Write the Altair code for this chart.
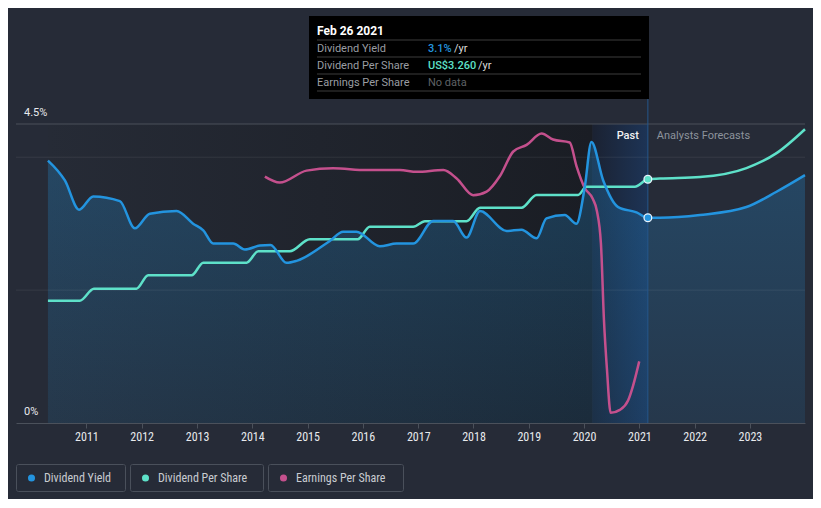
import altair as alt
import pandas as pd

# ---------------- data ----------------
YIELD_DATES = ["2010-04-22", "2010-08-12", "2010-11-14", "2011-02-15", "2011-08-10", "2011-11-17",
               "2012-02-24", "2012-08-19", "2012-12-06", "2013-02-11", "2013-04-18", "2013-08-28",
               "2013-11-13", "2014-02-20", "2014-05-01", "2014-08-15", "2014-10-20", "2015-05-28",
               "2015-08-24", "2015-11-20", "2016-04-22", "2016-08-11", "2016-11-29", "2017-04-10",
               "2017-08-20", "2017-11-16", "2018-02-13", "2018-08-08", "2018-11-14", "2019-02-22",
               "2019-04-28", "2019-08-27", "2019-11-12", "2020-01-06", "2020-02-19", "2020-05-07",
               "2020-08-14", "2020-12-13", "2021-02-26", "2021-05-16", "2022-02-05", "2022-12-09",
               "2023-06-26", "2023-12-31"]
YIELD_VALUES = [3.95, 3.65, 3.21, 3.41, 3.34, 2.93,
                3.15, 3.19, 3.00, 2.90, 2.70, 2.70,
                2.61, 2.67, 2.68, 2.41, 2.44, 2.74,
                2.88, 2.88, 2.66, 2.70, 2.70, 3.04,
                3.04, 2.79, 3.19, 2.89, 2.91, 2.78,
                3.08, 3.13, 3.00, 3.55, 4.23, 3.65,
                3.25, 3.17, 3.09, 3.09, 3.13, 3.25,
                3.48, 3.73]

DPS_DATES = ["2010-04-22", "2010-11-18", "2011-02-20", "2011-11-28", "2012-02-13", "2012-11-26",
             "2013-02-11", "2013-11-24", "2014-02-09", "2014-09-06", "2015-01-16", "2015-11-28",
             "2016-02-16", "2016-11-29", "2017-02-14", "2017-11-16", "2018-02-13", "2018-11-14",
             "2019-02-22", "2019-11-23", "2020-01-17", "2020-12-02", "2021-02-26", "2021-05-16",
             "2022-02-05", "2022-12-09", "2023-06-26", "2023-12-31"]
DPS_VALUES = [1.636, 1.636, 1.797, 1.797, 1.976, 1.976,
              2.145, 2.145, 2.297, 2.297, 2.458, 2.458,
              2.626, 2.626, 2.70, 2.70, 2.88, 2.88,
              3.05, 3.05, 3.16, 3.16, 3.26, 3.27,
              3.29, 3.41, 3.61, 3.93]

EPS_DATES = ["2014-03-25", "2014-07-01", "2014-12-25", "2015-06-19", "2016-01-26", "2016-09-02",
             "2016-12-22", "2017-06-16", "2017-09-12", "2017-12-30", "2018-03-29", "2018-06-25",
             "2018-09-21", "2018-12-18", "2019-03-27", "2019-06-11", "2019-09-29", "2019-11-12",
             "2020-01-06", "2020-02-28", "2020-03-26", "2020-04-22", "2020-05-12", "2020-06-01",
             "2020-06-25", "2020-08-25", "2020-10-19", "2020-11-21", "2020-12-31"]
EPS_VALUES = [4.12, 4.02, 4.22, 4.26, 4.23, 4.23,
              4.20, 4.23, 4.09, 3.81, 3.87, 4.13,
              4.54, 4.65, 4.84, 4.74, 4.69, 4.30,
              3.93, 3.75, 3.55, 3.00, 1.72, 0.89,
              0.17, 0.22, 0.38, 0.63, 1.03]

YEARS = list(range(2011, 2024))
Y_TICKS = [0, 4.5]
Y_TICK_LABELS = ["0%", "4.5%"]
GRID_VALUES = [2, 4]
TOP_VALUE = [4.5]

PAST_START = "2010-04-22"
BAND_START = "2020-02-26"
TODAY = "2021-02-26"
TODAY_YIELD = 3.09
TODAY_DPS = 3.26

SERIES = ["Dividend Yield", "Dividend Per Share", "Earnings Per Share"]

# ---------------- styling ----------------
BG = "#262b37"
C_YIELD = "#2394df"
C_DPS = "#5ee1c9"
C_EPS = "#c4508d"
FONT = "Roboto"
NARROW = "Roboto Condensed, Liberation Sans Narrow, Roboto"
W, H = 789, 299

YIELD_DOMAIN = [0, 4.5]
DPS_DOMAIN = [0, 4]
EPS_DOMAIN = [0, 5]

yield_df = pd.DataFrame({"date": YIELD_DATES, "v": YIELD_VALUES})
dps_df = pd.DataFrame({"date": DPS_DATES, "v": DPS_VALUES})
eps_df = pd.DataFrame({"date": EPS_DATES, "v": EPS_VALUES})
ONE = pd.DataFrame({"k": [0]})

x_axis = alt.Axis(
    values=[alt.DateTime(year=y, month=1, date=1, utc=True) for y in YEARS],
    labelExpr="utcFormat(datum.value, '%Y')",
    grid=False, domainColor="#4b515b", tickColor="#4b515b", tickSize=5,
    labelColor="#e8eaed", labelFont=NARROW, labelFontSize=12, labelPadding=3,
    labelFlush=False, title=None,
)
X_DOMAIN = [alt.DateTime(year=2009, month=9, date=23, utc=True),
            alt.DateTime(year=2023, month=12, date=31, utc=True)]


def X(field):
    return alt.X(f"{field}:T", scale=alt.Scale(type="utc", domain=X_DOMAIN), axis=x_axis, title=None)


def Y(field, domain):
    return alt.Y(f"{field}:Q", scale=alt.Scale(domain=domain, nice=False, zero=True), axis=None, title=None)


def label(text, x, y, color, size=11, weight="normal", align="left", font=FONT):
    return alt.Chart(ONE).mark_text(
        text=text, align=align, baseline="middle", color=color,
        fontSize=size, fontWeight=weight, font=font
    ).encode(x=alt.value(x), y=alt.value(y))


# background spans
past_grad = alt.Gradient(gradient="linear", x1=0, x2=1, y1=0, y2=0,
                         stops=[alt.GradientStop(color="#262b36", offset=0),
                                alt.GradientStop(color="#1a1d24", offset=1)])
band_grad = alt.Gradient(gradient="linear", x1=0, x2=1, y1=0, y2=0,
                         stops=[alt.GradientStop(color="#1b2232", offset=0),
                                alt.GradientStop(color="#1d3456", offset=1)])
past_rect = alt.Chart(pd.DataFrame({"s": [PAST_START], "e": [BAND_START]})).mark_rect(
    color=past_grad).encode(x=X("s"), x2="e:T", y=alt.value(0), y2=alt.value(H))
band_rect = alt.Chart(pd.DataFrame({"s": [BAND_START], "e": [TODAY]})).mark_rect(
    color=band_grad).encode(x=X("s"), x2="e:T", y=alt.value(0), y2=alt.value(H))

area_grad = alt.Gradient(gradient="linear", x1=0, x2=0, y1=0, y2=1,
                         stops=[alt.GradientStop(color="rgba(35,148,223,0.28)", offset=0),
                                alt.GradientStop(color="rgba(35,148,223,0.12)", offset=1)])
yield_area = alt.Chart(yield_df).mark_area(color=area_grad, interpolate="monotone").encode(
    x=X("date"), y=Y("v", YIELD_DOMAIN))

grid = alt.Chart(pd.DataFrame({"v": GRID_VALUES})).mark_rule(
    color="#ffffff", opacity=0.07, strokeWidth=1).encode(y=Y("v", YIELD_DOMAIN))
top_line = alt.Chart(pd.DataFrame({"v": TOP_VALUE})).mark_rule(
    color="#4b515b", strokeWidth=1).encode(y=Y("v", YIELD_DOMAIN))

today_df = pd.DataFrame({"date": [TODAY]})
today_rule = alt.Chart(today_df).mark_rule(color="#24568c", strokeWidth=1).encode(
    x=X("date"), y=alt.value(-25), y2=alt.value(H))

eps_line = alt.Chart(eps_df).mark_line(color=C_EPS, strokeWidth=2.5, interpolate="monotone").encode(
    x=X("date"), y=Y("v", EPS_DOMAIN))
dps_line = alt.Chart(dps_df).mark_line(color=C_DPS, strokeWidth=2.5, interpolate="monotone").encode(
    x=X("date"), y=Y("v", DPS_DOMAIN))
yield_line = alt.Chart(yield_df).mark_line(color=C_YIELD, strokeWidth=2.5, interpolate="monotone").encode(
    x=X("date"), y=Y("v", YIELD_DOMAIN))

yield_pt = alt.Chart(pd.DataFrame({"date": [TODAY], "v": [TODAY_YIELD]})).mark_point(
    filled=True, fill=C_YIELD, stroke="#e8f2fb", strokeWidth=1.3, size=60, opacity=1).encode(
    x=X("date"), y=Y("v", YIELD_DOMAIN))
dps_pt = alt.Chart(pd.DataFrame({"date": [TODAY], "v": [TODAY_DPS]})).mark_point(
    filled=True, fill=C_DPS, stroke="#e8f2fb", strokeWidth=1.3, size=60, opacity=1).encode(
    x=X("date"), y=Y("v", DPS_DOMAIN))

past_txt = alt.Chart(today_df).mark_text(
    text="Past", align="right", baseline="middle", dx=-9, color="#f2f2f2",
    fontSize=11, fontWeight=500, font=FONT).encode(x=X("date"), y=alt.value(12))
fc_txt = alt.Chart(today_df).mark_text(
    text="Analysts Forecasts", align="left", baseline="middle", dx=9, color="#8d939c",
    fontSize=11, font=FONT).encode(x=X("date"), y=alt.value(12))

ytick_labels = alt.Chart(pd.DataFrame({"v": Y_TICKS, "t": Y_TICK_LABELS})).mark_text(
    align="left", baseline="middle", dy=-11, color="#e8eaed", fontSize=11, font=FONT).encode(
    x=alt.value(8), y=Y("v", YIELD_DOMAIN), text="t:N")

# tooltip panel (relative to plot origin)
tip_box = alt.Chart(ONE).mark_rect(color="#000000").encode(
    x=alt.value(293), x2=alt.value(633), y=alt.value(-108), y2=alt.value(-25))
seps = [alt.Chart(ONE).mark_rule(color="#3c3c3c", strokeWidth=1).encode(
    x=alt.value(301), x2=alt.value(625), y=alt.value(yy)) for yy in (-84, -67, -50, -33)]
tip_texts = [
    label("Feb 26 2021", 301, -93, "#ffffff", size=12, weight="bold"),
    label(SERIES[0], 301, -75.5, "#9a9da2"),
    label(SERIES[1], 301, -58.5, "#9a9da2"),
    label(SERIES[2], 301, -41.5, "#9a9da2"),
    label("3.1%", 412, -75.5, C_YIELD, weight=500),
    label("/yr", 438, -75.5, "#dddddd"),
    label("US$3.260", 412, -58.5, C_DPS, weight=500),
    label("/yr", 462, -58.5, "#dddddd"),
    label("No data", 412, -41.5, "#5f6266"),
]

# legend (relative to plot origin)
LEG_BOX_X = [(0, 109), (114, 247), (252, 387)]
LEG_COLORS = [C_YIELD, C_DPS, C_EPS]
legend_layers = []
for (x0, x1), name, col in zip(LEG_BOX_X, SERIES, LEG_COLORS):
    legend_layers.append(alt.Chart(ONE).mark_rect(
        fill=BG, stroke="#4a505b", strokeWidth=1, cornerRadius=2).encode(
        x=alt.value(x0 + 0.5), x2=alt.value(x1 + 0.5), y=alt.value(340.5), y2=alt.value(367.5)))
    legend_layers.append(alt.Chart(ONE).mark_point(
        filled=True, fill=col, size=50, opacity=1, shape="circle").encode(
        x=alt.value(x0 + 15.5), y=alt.value(354)))
    legend_layers.append(label(name, x0 + 28, 354, "#c9ccd1", size=12, font=NARROW))

chart = alt.layer(
    past_rect, band_rect, yield_area, grid, top_line, today_rule,
    eps_line, dps_line, yield_line, yield_pt, dps_pt,
    past_txt, fc_txt, ytick_labels,
    tip_box, *seps, *tip_texts, *legend_layers,
).resolve_scale(y="independent").properties(
    width=W, height=H,
    padding={"left": 8, "top": 116, "right": 8, "bottom": 76},
    autosize=alt.AutoSizeParams(type="none"),
    background=BG,
).configure_view(stroke=None)

chart.save("out.html", embed_options={"renderer": "svg", "actions": False})
